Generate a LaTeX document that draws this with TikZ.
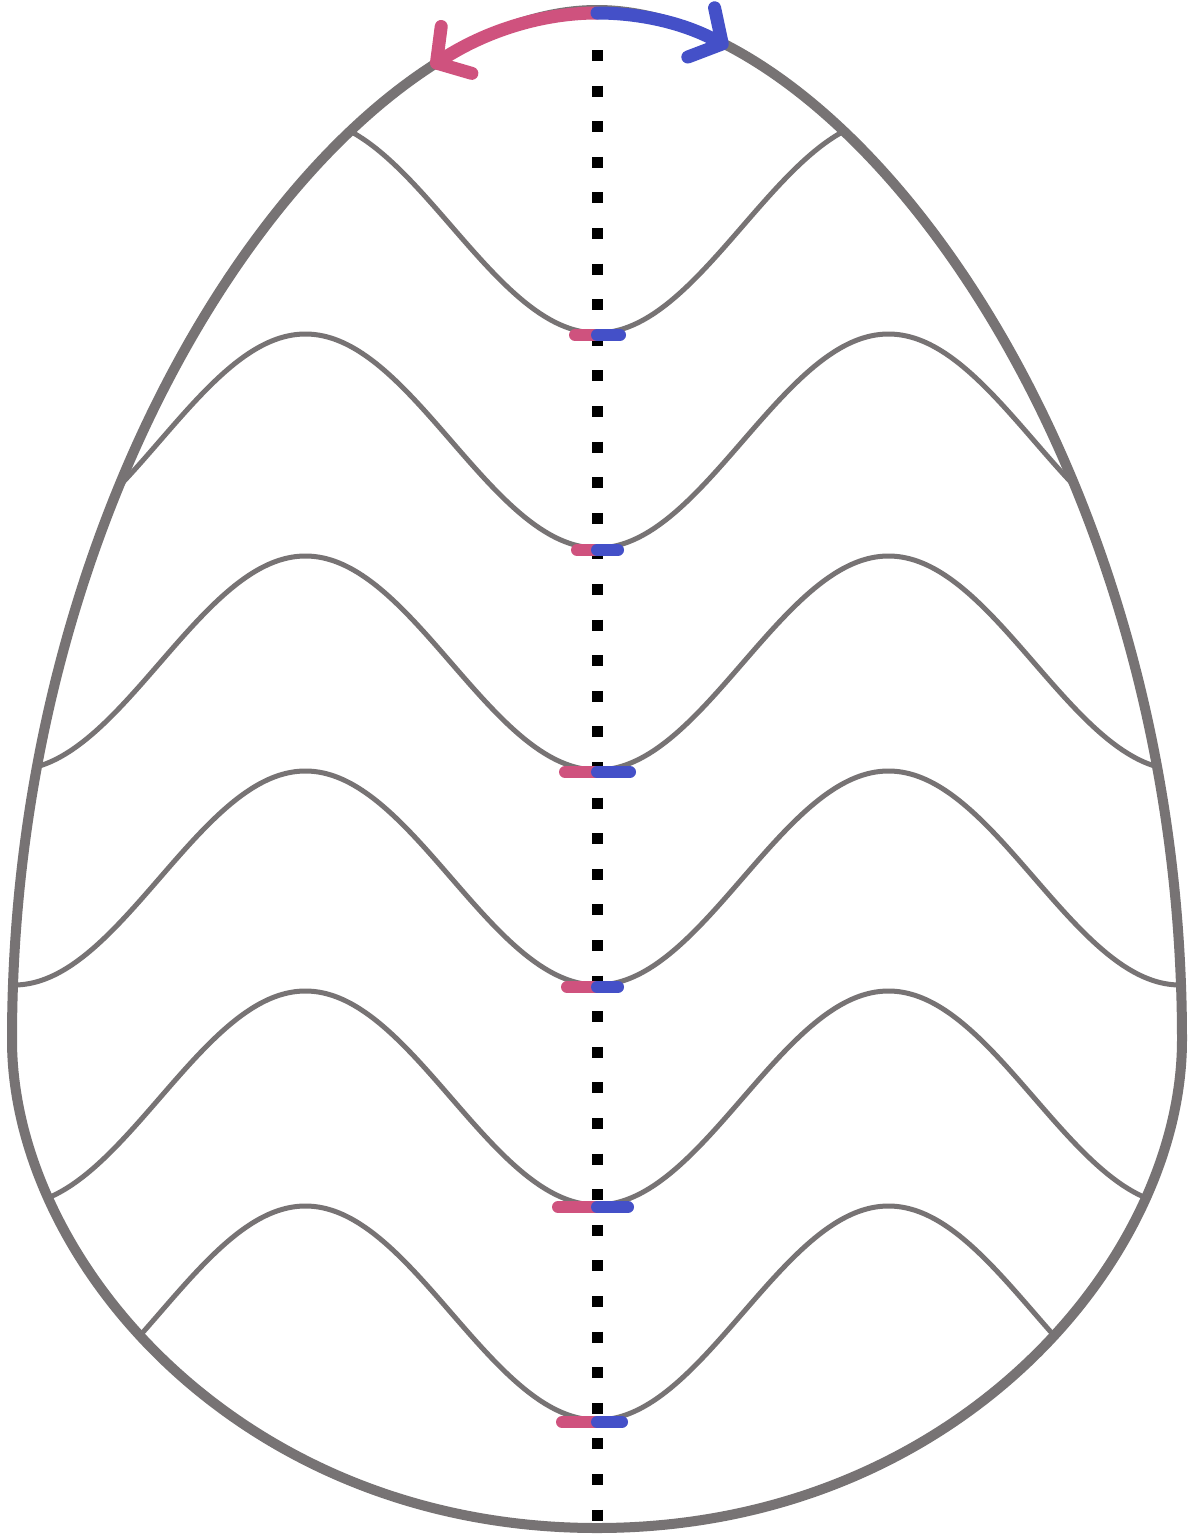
\documentclass[tikz,border=0pt]{standalone}
\usetikzlibrary{arrows.meta}
\definecolor{egggray}{RGB}{119,115,116}
\definecolor{mkpink}{RGB}{207,82,126}
\definecolor{mkblue}{RGB}{68,80,200}
\tikzset{
  eggline/.style={draw=egggray, line width=10pt},
  waveline/.style={draw=egggray, line width=5pt},
  pinkmark/.style={draw=mkpink, line width=12pt, line cap=round},
  bluemark/.style={draw=mkblue, line width=12pt, line cap=round},
  dotline/.style={draw=black, line width=11pt, dash pattern=on 11pt off 24.6pt},
  toparrow/.style={line width=13pt, line cap=round, line join=round,
     -{Straight Barb[length=24pt,width=56pt,line cap=round,line join=round]}},
}
\def\eggpath{(597,10) .. controls (850,10) and (1182,460) .. (1182,1040)
  .. controls (1182,1260) and (954,1528) .. (597,1528)
  .. controls (240,1528) and (12,1260) .. (12,1040)
  .. controls (12,460) and (344,10) .. (597,10) -- cycle}
\begin{document}
\begin{tikzpicture}[x=1pt,y=-1pt]
\useasboundingbox (0,0) rectangle (1194,1535);
\fill[white] (0,0) rectangle (1194,1535);
% dotted axis
\coordinate (axtop) at (597,50);
\coordinate (axbot) at (597,1528);
\draw[dotline] (axtop) -- (axbot);
% waves clipped to egg
\begin{scope}
  \clip \eggpath;
  \foreach \ty in {333,548,770,985,1205,1420}{
    \draw[waveline] plot[domain=0:1194, samples=240, smooth]
      (\x, {\ty-107+107*cos(0.6175*(\x-597))});
  }
\end{scope}
% trough marks
\foreach \ty/\aa/\bb in {333/570/625, 548/572/623, 770/560/635, 985/562/623, 1205/553/633, 1420/557/627}{
  \coordinate (pa) at (\aa+5,\ty+2);
  \coordinate (pm) at (597,\ty+2);
  \coordinate (pb) at (\bb-5,\ty+2);
  \draw[pinkmark] (pa) -- (pm);
  \draw[bluemark] (pm) -- (pb);
}
% egg outline
\draw[eggline] \eggpath;
% top arrows
\coordinate (apex) at (597,13);
\coordinate (ltip) at (431,66.6);
\coordinate (rtip) at (728,47);
\draw[toparrow, mkpink] (apex) .. controls (543.9,13) and (487.2,29.9) .. (ltip);
\draw[toparrow, mkblue] (apex) .. controls (638.7,13) and (682.6,22.3) .. (rtip);
\end{tikzpicture}
\end{document}
